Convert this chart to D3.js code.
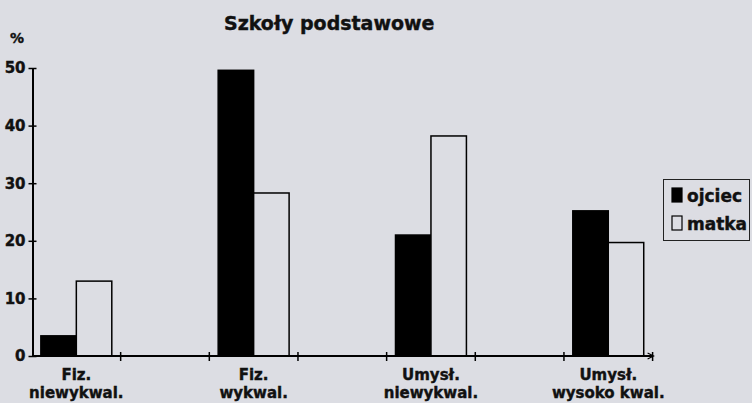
<!DOCTYPE html>
<html>
<head>
<meta charset="utf-8">
<script src="https://cdn.jsdelivr.net/npm/d3@7"></script>
<style>
  html, body { margin: 0; padding: 0; background: #dcdde3; }
  svg { display: block; }
  text { font-family: "DejaVu Sans", sans-serif; font-weight: bold; fill: #111; stroke: #111; stroke-width: 0.4px; }
</style>
</head>
<body>
<svg id="svg" width="752" height="403"></svg>
<script>
// data
var categories = [["Fiz.", "niewykwal."], ["Fiz.", "wykwal."], ["Umysł.", "niewykwal."], ["Umysł.", "wysoko kwal."]];
var series = ["ojciec", "matka"];
var ojciec = [3.5, 49.6, 21.0, 25.2];
var matka = [13.0, 28.3, 38.2, 19.7];
var yTicks = [0, 10, 20, 30, 40, 50];

var svg = d3.select("#svg");
var bg = "#dcdde3";

var keys = categories.map(function(c) { return c.join(" "); });
var values = { ojciec: ojciec, matka: matka };

var x = d3.scaleBand().domain(keys).range([32, 652.6]).paddingInner(0.5).paddingOuter(0);
var bw = x.bandwidth();
var x1 = d3.scaleBand().domain(series).range([bw * 0.1, bw * 0.9]);
var y = d3.scaleLinear().domain([0, 50]).range([356, 68]);

//////// TITLE //////////
svg.append("text")
    .attr("x", 224)
    .attr("y", 30)
    .style("font-size", "19px")
    .text("Szkoły podstawowe");

svg.append("text")
    .attr("x", 10)
    .attr("y", 43)
    .style("font-size", "14px")
    .text("%");

//////// BARS //////////
var groups = svg.selectAll("g.grp").data(keys).enter()
    .append("g")
    .attr("class", "grp")
    .attr("transform", function(d) { return "translate(" + x(d) + ",0)"; });

groups.selectAll("rect")
    .data(function(d, i) { return series.map(function(s) { return { s: s, v: values[s][i] }; }); })
    .enter().append("rect")
    .attr("x", function(d) { return x1(d.s); })
    .attr("width", x1.bandwidth())
    .attr("y", function(d) { return y(d.v); })
    .attr("height", function(d) { return y(0) - y(d.v); })
    .attr("fill", function(d) { return d.s == "ojciec" ? "#000" : bg; })
    .attr("stroke", "#000")
    .attr("stroke-width", 1.5);

//////// Y AXIS //////////
var yAxis = svg.append("g")
    .attr("transform", "translate(32.5,0)")
    .call(d3.axisLeft(y).tickValues(yTicks).tickSizeInner(4).tickSizeOuter(0).tickPadding(3));
yAxis.select(".domain").attr("stroke", "#000").attr("stroke-width", 2);
yAxis.selectAll(".tick line").attr("x2", -4).attr("x1", 4).attr("stroke", "#000").attr("stroke-width", 1.5);
yAxis.selectAll(".tick text")
    .style("font-family", "DejaVu Sans, sans-serif")
    .style("font-weight", "bold")
    .style("font-size", "15px")
    .attr("fill", "#111")
    .attr("stroke", "#111")
    .attr("stroke-width", 0.4);

//////// X AXIS //////////
var bounds = [];
keys.forEach(function(k) { bounds.push(x(k)); bounds.push(x(k) + bw); });
var xEnd = bounds[bounds.length - 1];

svg.append("line")
    .attr("x1", bounds[0])
    .attr("x2", xEnd)
    .attr("y1", y(0))
    .attr("y2", y(0))
    .attr("stroke", "#000")
    .attr("stroke-width", 2);

svg.selectAll("line.xt").data(bounds.slice(1)).enter()
    .append("line")
    .attr("class", "xt")
    .attr("x1", function(d) { return d; })
    .attr("x2", function(d) { return d; })
    .attr("y1", y(0) - 4)
    .attr("y2", y(0) + 5)
    .attr("stroke", "#000")
    .attr("stroke-width", 1.5);

// small arrow head at the end of the x axis
svg.append("path")
    .attr("d", "M" + (xEnd - 5) + "," + (y(0) - 3) + "L" + (xEnd + 1) + "," + y(0) + "L" + (xEnd - 5) + "," + (y(0) + 3))
    .attr("fill", "none")
    .attr("stroke", "#000")
    .attr("stroke-width", 1.2);

// category labels, two lines each
var labels = svg.selectAll("text.cat").data(categories).enter()
    .append("text")
    .attr("class", "cat")
    .attr("text-anchor", "middle")
    .style("font-size", "15px");
labels.append("tspan")
    .attr("x", function(d) { return x(d.join(" ")) + bw / 2; })
    .attr("y", 380)
    .text(function(d) { return d[0]; });
labels.append("tspan")
    .attr("x", function(d) { return x(d.join(" ")) + bw / 2; })
    .attr("y", 398)
    .text(function(d) { return d[1]; });

//////// LEGEND //////////
var legend = svg.append("g");
legend.append("rect")
    .attr("x", 663.5)
    .attr("y", 179.5)
    .attr("width", 86)
    .attr("height", 61)
    .attr("fill", "none")
    .attr("stroke", "#222")
    .attr("stroke-width", 1);

var items = legend.selectAll("g").data(series).enter()
    .append("g")
    .attr("transform", function(d, i) { return "translate(672," + (188 + i * 28) + ")"; });
items.append("rect")
    .attr("width", 10)
    .attr("height", 14)
    .attr("fill", function(d) { return d == "ojciec" ? "#000" : bg; })
    .attr("stroke", "#000")
    .attr("stroke-width", 1.2);
items.append("text")
    .attr("x", 15)
    .attr("y", 14)
    .style("font-size", "17px")
    .text(function(d) { return d; });
</script>
</body>
</html>
